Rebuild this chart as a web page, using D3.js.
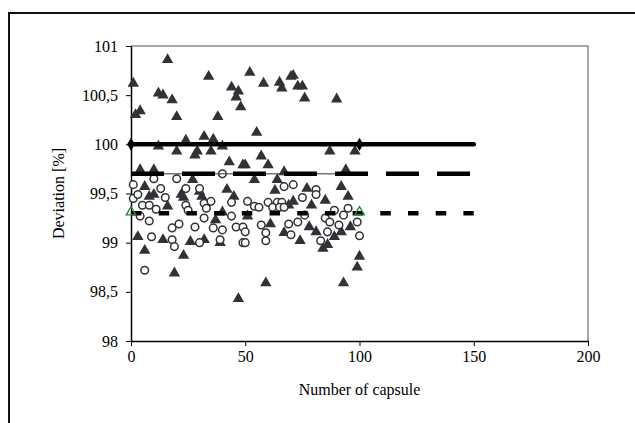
<!DOCTYPE html>
<html>
<head>
<meta charset="utf-8">
<script src="https://cdn.jsdelivr.net/npm/d3@7"></script>
<style>
  body { margin: 0; background: #fff; }
</style>
</head>
<body>
<div id="chart"></div>
<script>
// Capsule number and deviation [%], triangles (batch A).
let tri_data = [
  [1,100.62],[2,100.30],[4,100.34],[12,100.52],[14,100.50],[16,100.86],[18,100.45],[20,100.28],
  [34,100.69],[38,100.28],[44,100.58],[46,100.48],[47,100.54],[48,100.38],
  [12,99.98],[20,99.93],[24,100.04],[28,99.89],[29,99.93],[32,100.08],[36,100.05],[35,99.93],
  [40,99.98],[43,99.82],[49,99.79],[4,99.74],[10,99.74],
  [52,100.73],[58,100.62],[65,100.63],[66,100.57],[70,100.69],[71,100.70],[73,100.59],[75,100.59],
  [76,100.47],[90,100.46],[55,100.12],[87,99.93],[98,99.93],[57,99.88],[50,99.79],[60,99.79],
  [94,99.74],[67,99.72],[27,99.64],[6,99.57],[8,99.47],[10,99.49],[22,99.49],[23,99.46],
  [30,99.52],[31,99.47],[42,99.54],[45,99.47],[16,99.37],[37,99.23],[40,99.31],
  [3,99.06],[6,98.92],[14,99.03],[26,99.01],[32,99.03],[39,99.00],[23,98.87],[19,98.69],[47,98.43],
  [54,99.64],[64,99.64],[63,99.53],[77,99.55],[92,99.57],[95,99.47],[71,99.42],[79,99.38],
  [85,99.43],[69,99.38],[61,99.19],[67,99.10],[74,99.02],[78,99.16],[81,99.11],[84,98.94],
  [86,98.98],[89,99.06],[92,99.11],[96,99.16],[100,98.86],[99,98.75],[59,98.59],[93,98.59],[51,99.27]
];

// Capsule number and deviation [%], circles (batch B).
let circ_data = [
  [1,99.59],[1,99.45],[3,99.49],[10,99.65],[20,99.65],[40,99.70],[13,99.55],[24,99.55],[30,99.55],
  [15,99.46],[5,99.38],[8,99.38],[11,99.34],[24,99.38],[32,99.40],[35,99.42],[44,99.41],[25,99.33],
  [33,99.35],[4,99.27],[8,99.22],[18,99.15],[21,99.19],[28,99.16],[32,99.25],[36,99.15],[40,99.13],
  [44,99.27],[46,99.16],[49,99.16],[9,99.06],[18,99.03],[19,98.96],[30,99.00],[39,99.03],[49,99.00],
  [6,98.72],[67,99.57],[71,99.59],[81,99.54],[81,99.49],[75,99.46],[51,99.42],[54,99.37],[60,99.41],
  [64,99.41],[66,99.41],[62,99.36],[65,99.36],[67,99.36],[56,99.36],[76,99.28],[85,99.25],[89,99.33],
  [95,99.35],[93,99.28],[99,99.21],[87,99.21],[91,99.18],[69,99.19],[73,99.21],[57,99.18],[50,99.11],
  [59,99.10],[70,99.08],[86,99.11],[59,99.02],[50,99.00],[83,99.02],[100,99.07]
];

// Reference lines: mean 100, upper 99.7, lower 99.3 over capsules 0..150.
let ref_levels = [100, 99.7, 99.3];
let ref_span = [0, 150];
let marker_x = [0, 100];

let x_ticks = [0, 50, 100, 150, 200];
let y_ticks = [98, 98.5, 99, 99.5, 100, 100.5, 101];

let width = 635, height = 423;
let serif = "'Liberation Serif', 'Times New Roman', Times, serif";

let svg = d3.select("#chart")
.append("svg")
.attr("width", width)
.attr("height", height);

// Outer frame (only top and left visible in the picture)
svg.append("rect")
.attr("x", 9)
.attr("y", 13)
.attr("width", 700)
.attr("height", 500)
.attr("fill", "none")
.attr("stroke", "#111")
.attr("stroke-width", 2);

let x = d3.scaleLinear().domain([0, 200]).range([131, 588]);
let y = d3.scaleLinear().domain([98, 101]).range([341, 46]);

// Plot border, grey on top and right
svg.append("path")
.attr("d", "M" + x(0) + "," + y(101) + "H" + x(200) + "V" + y(98))
.attr("fill", "none")
.attr("stroke", "#8c8c8c")
.attr("stroke-width", 1.5);

let fmt = d => String(d).replace(".", ",");

svg.append("g")
.attr("transform", "translate(0," + y(98) + ")")
.call(d3.axisBottom(x).tickValues(x_ticks).tickSize(5).tickSizeOuter(0).tickPadding(5).tickFormat(fmt));

svg.append("g")
.attr("transform", "translate(" + x(0) + ",0)")
.call(d3.axisLeft(y).tickValues(y_ticks).tickSize(5).tickSizeOuter(0).tickPadding(8).tickFormat(fmt));

svg.selectAll(".domain").attr("stroke", "#000").attr("stroke-width", 1.5);
svg.selectAll(".tick line").attr("stroke", "#000");

// Triangles
let tri = d3.symbol().type(d3.symbolTriangle).size(56);
svg.append("g")
.selectAll("path")
.data(tri_data)
.enter()
.append("path")
.attr("d", tri)
.attr("transform", d => "translate(" + x(d[0]) + "," + y(d[1]) + ")")
.attr("fill", "#2f3236");

// Circles
svg.append("g")
.selectAll("circle")
.data(circ_data)
.enter()
.append("circle")
.attr("cx", d => x(d[0]))
.attr("cy", d => y(d[1]))
.attr("r", 3.8)
.attr("fill", "#fff")
.attr("stroke", "#2f3236")
.attr("stroke-width", 1.5);

// Mean line, solid
svg.append("line")
.attr("x1", x(ref_span[0])).attr("x2", x(ref_span[1]))
.attr("y1", y(ref_levels[0])).attr("y2", y(ref_levels[0]))
.attr("stroke", "#000").attr("stroke-width", 4.5).attr("stroke-linecap", "round");

svg.append("g")
.selectAll("path")
.data(marker_x)
.enter()
.append("path")
.attr("d", d3.symbol().type(d3.symbolDiamond).size(50))
.attr("transform", d => "translate(" + x(d) + "," + y(ref_levels[0]) + ")")
.attr("fill", "#000");

// Upper line: thin connector plus long dashes
svg.append("line")
.attr("x1", x(marker_x[0])).attr("x2", x(marker_x[1]))
.attr("y1", y(ref_levels[1])).attr("y2", y(ref_levels[1]))
.attr("stroke", "#333").attr("stroke-width", 1);

svg.append("line")
.attr("x1", x(ref_span[0])).attr("x2", x(ref_span[1]))
.attr("y1", y(ref_levels[1])).attr("y2", y(ref_levels[1]))
.attr("stroke", "#000").attr("stroke-width", 4.5).attr("stroke-dasharray", "33,18");

// Lower line: short dashes
svg.append("line")
.attr("x1", x(ref_span[0])).attr("x2", x(ref_span[1]))
.attr("y1", y(ref_levels[2])).attr("y2", y(ref_levels[2]))
.attr("stroke", "#000").attr("stroke-width", 4.5).attr("stroke-dasharray", "10.5,17.2");

svg.append("g")
.selectAll("path")
.data(marker_x)
.enter()
.append("path")
.attr("d", d3.symbol().type(d3.symbolTriangle).size(40))
.attr("transform", d => "translate(" + x(d) + "," + (y(ref_levels[2]) - 1) + ")")
.attr("fill", "none")
.attr("stroke", "#1e8a3c")
.attr("stroke-width", 1.3);

// Axis titles
svg.append("text")
.attr("text-anchor", "middle")
.attr("x", (x(0) + x(200)) / 2)
.attr("y", 395)
.text("Number of capsule");

svg.append("text")
.attr("text-anchor", "middle")
.attr("transform", "translate(64," + ((y(98) + y(101)) / 2) + ") rotate(-90)")
.text("Deviation [%]");

svg.selectAll("text")
.style("font-family", serif)
.style("font-size", "16px")
.attr("fill", "#000");
</script>
</body>
</html>
